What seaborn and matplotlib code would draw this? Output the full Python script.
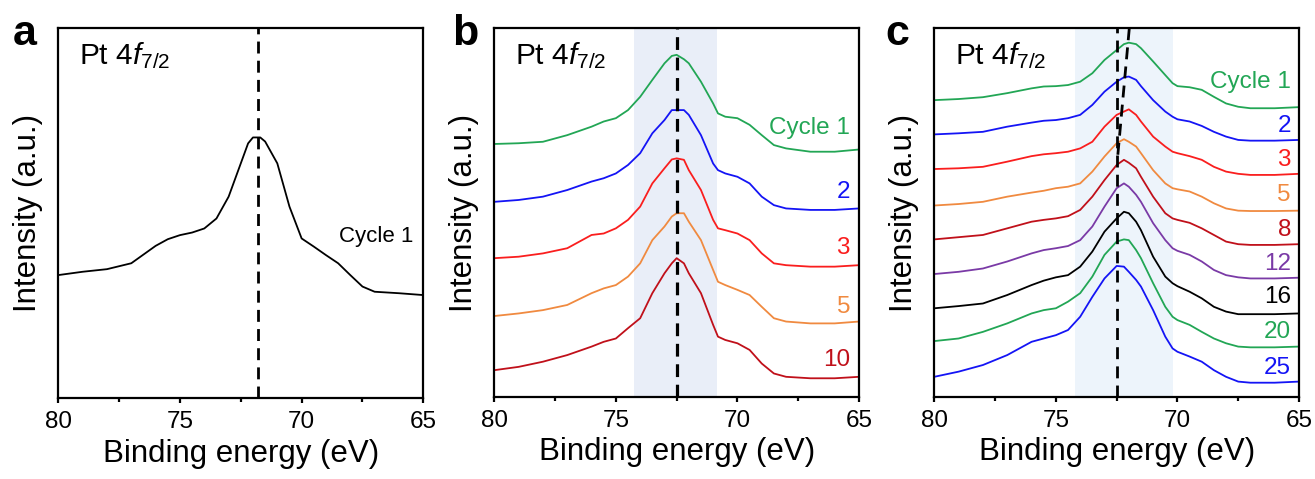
import numpy as np
import pandas as pd
import matplotlib
matplotlib.use("Agg")
import matplotlib.pyplot as plt
from matplotlib.ticker import MultipleLocator
import seaborn as sns

# ---------------- data ----------------
# Panel a: single spectrum (cycle 1)
energy_a = [80, 79, 78, 77, 76, 75.5, 75, 74.5, 74, 73.5, 73, 72.5, 72.2, 72, 71.7,
            71.5, 71, 70.5, 70, 69.5, 69, 68.5, 68, 67.5, 67, 66, 65]
intensity_a = [33.3, 34.2, 34.9, 36.5, 41.2, 43.0, 44.1, 44.8, 45.9, 48.6, 54.5, 63.5,
               68.9, 70.5, 70.5, 69.4, 63.5, 51.8, 43.2, 41.0, 38.7, 36.5, 33.3, 30.2,
               28.8, 28.4, 27.9]
peak_a = 71.8

# Panel b: cycles 1, 2, 3, 5, 10 (offset stack)
energy_b = [80, 79, 78, 77, 76, 75.5, 75, 74.5, 74, 73.5, 73, 72.7, 72.5, 72.2, 72,
            71.5, 71, 70.8, 70.5, 70, 69.5, 69, 68.5, 68, 67, 66, 65]
cycles_b = ["Cycle 1", "2", "3", "5", "10"]
b_cycle1 = [68.6, 68.8, 69.2, 71.0, 73.3, 74.7, 75.6, 77.8, 81.4, 86.0, 90.5, 92.5, 92.8,
            91.6, 90.5, 85.5, 79.6, 76.9, 76.0, 75.6, 73.8, 71.0, 68.3, 67.4, 66.5, 66.5, 67.1]
b_cycle2 = [52.9, 53.4, 54.3, 56.1, 58.4, 59.3, 60.6, 62.9, 66.1, 71.5, 75.1, 77.8, 77.8,
            77.8, 76.5, 71.0, 63.3, 61.5, 60.6, 59.7, 57.9, 54.3, 52.0, 51.1, 50.7, 50.7, 51.1]
b_cycle3 = [37.6, 38.0, 38.9, 40.3, 43.9, 44.3, 45.7, 48.0, 51.6, 57.9, 62.0, 64.4, 64.7,
            64.3, 61.5, 56.1, 48.0, 45.7, 45.2, 44.3, 42.5, 38.9, 36.2, 35.7, 35.3, 35.3, 35.7]
b_cycle5 = [21.9, 22.6, 23.5, 24.9, 28.1, 29.4, 30.3, 32.6, 36.2, 42.5, 46.2, 48.9, 49.8,
            49.8, 47.5, 42.5, 34.4, 31.2, 30.3, 29.0, 27.6, 24.4, 21.3, 20.4, 19.9, 19.9, 20.4]
b_cycle10 = [7.2, 8.1, 9.5, 11.3, 13.6, 14.9, 15.8, 18.6, 21.3, 28.1, 33.5, 36.2, 37.6,
             36.2, 33.5, 28.1, 19.5, 16.3, 15.4, 14.5, 12.7, 9.0, 6.3, 5.4, 5.0, 5.0, 5.4]
label_y_b = [72.9, 55.7, 40.3, 24.4, 10.0]
colors_b = ["#22a655", "#1414f5", "#fa1e1e", "#f08a40", "#c0101a"]
band_b = (74.25, 70.85)
peak_b = 72.5

# Panel c: cycles 1 ... 25 (offset stack)
energy_c = [80, 79, 78, 77, 76, 75.5, 75, 74.5, 74, 73.5, 73, 72.5, 72.2, 72, 71.7,
            71.5, 71, 70.5, 70.2, 70, 69.5, 69, 68.5, 68, 67.5, 67, 66, 65]
cycles_c = ["Cycle 1", "2", "3", "5", "8", "12", "16", "20", "25"]
c_cycle1 = [80.5, 80.8, 81.3, 82.4, 83.7, 84.2, 84.3, 84.6, 85.5, 87.8, 91.4, 94.1, 95.7,
            96.1, 95.7, 94.6, 91.0, 87.3, 85.1, 84.3, 84.0, 83.3, 81.4, 79.6, 78.7, 78.3,
            78.3, 78.6]
c_cycle2 = [71.2, 71.5, 71.9, 73.3, 74.4, 74.9, 75.1, 75.6, 76.5, 79.2, 82.8, 85.5, 86.7,
            86.9, 86.0, 84.3, 80.5, 77.4, 76.0, 75.3, 74.7, 73.5, 71.9, 70.6, 69.7, 69.5,
            69.5, 69.7]
c_cycle3 = [61.8, 62.0, 62.4, 63.8, 65.3, 65.8, 66.1, 66.5, 67.4, 69.2, 73.3, 76.5, 77.4,
            78.0, 76.5, 74.7, 70.6, 67.9, 66.5, 66.1, 65.3, 64.3, 62.4, 61.1, 60.5, 60.2,
            60.2, 60.5]
c_cycle5 = [51.9, 52.3, 52.9, 54.3, 55.4, 55.9, 56.6, 57.0, 57.9, 61.1, 65.2, 68.8, 69.9,
            69.2, 67.9, 66.1, 61.5, 57.9, 56.6, 56.3, 55.7, 54.3, 52.5, 51.1, 50.5, 50.4,
            50.4, 50.5]
c_cycle8 = [42.7, 43.3, 43.9, 45.7, 47.5, 48.0, 48.4, 49.0, 50.7, 54.3, 58.8, 62.9, 64.3,
            63.5, 62.0, 59.7, 54.3, 49.8, 48.4, 48.0, 47.2, 45.7, 43.9, 42.1, 41.4, 41.2,
            41.2, 41.4]
c_cycle12 = [33.3, 33.9, 34.8, 36.7, 38.9, 39.8, 40.3, 40.9, 42.5, 46.2, 51.6, 56.6, 57.9,
             57.0, 54.8, 52.9, 47.1, 42.5, 40.3, 39.6, 38.5, 36.7, 34.4, 33.0, 32.4, 32.1,
             32.1, 32.3]
c_cycle16 = [24.0, 24.6, 25.3, 27.6, 30.3, 31.5, 32.4, 33.0, 35.3, 39.4, 44.8, 48.4, 50.2,
             49.8, 47.5, 45.2, 38.0, 32.6, 30.8, 30.0, 28.5, 26.7, 24.4, 23.1, 22.4, 22.4,
             22.4, 22.6]
c_cycle20 = [15.1, 15.8, 17.6, 19.9, 22.6, 23.5, 24.0, 25.8, 28.1, 32.6, 38.5, 42.1, 42.7,
             42.5, 39.8, 37.6, 30.8, 24.4, 21.7, 20.8, 19.5, 17.6, 15.8, 14.5, 13.6, 13.4,
             13.4, 13.6]
c_cycle25 = [5.4, 6.8, 8.6, 11.3, 14.9, 15.8, 16.7, 18.1, 21.7, 27.1, 32.1, 35.5, 35.3,
             33.9, 31.7, 29.9, 23.5, 16.3, 13.1, 12.2, 10.9, 9.5, 7.2, 5.4, 4.1, 3.8, 3.8, 4.1]
label_y_c = [85.5, 73.5, 64.3, 54.8, 45.2, 36.0, 27.0, 17.6, 7.7]
colors_c = ["#22a655", "#1414f5", "#fa1e1e", "#f08a40", "#c0101a", "#7a3aa6", "#000000",
            "#22a655", "#1414f5"]
band_c = (74.2, 70.2)
peak_c = 72.5
shift_line_c = ([71.98, 72.47], [100.0, 64.3])

# ---------------- style ----------------
sns.set_style("ticks")
plt.rcParams["font.family"] = ["Liberation Sans", "DejaVu Sans"]
plt.rcParams["mathtext.fontset"] = "custom"
plt.rcParams["mathtext.rm"] = "Liberation Sans"
plt.rcParams["mathtext.it"] = "Liberation Sans:italic"
plt.rcParams["axes.linewidth"] = 1.6
plt.rcParams["axes.edgecolor"] = "black"
plt.rcParams["text.color"] = "black"
plt.rcParams["axes.labelcolor"] = "black"
plt.rcParams["xtick.color"] = "black"
plt.rcParams["ytick.color"] = "black"

fig = plt.figure(figsize=(13.15, 4.79), dpi=100)
W, H = 1315, 479
boxes = [(58.3, 28.3, 423.3, 398.3), (494.3, 28.3, 859.0, 396.7), (934.3, 28.3, 1299.0, 396.7)]
axes = []
for (x0, y0, x1, y1) in boxes:
    axes.append(fig.add_axes([x0 / W, 1 - y1 / H, (x1 - x0) / W, (y1 - y0) / H]))

LAB = 22.5
TICK = 17.5
CURVE = 17.5


def style_axis(ax):
    ax.set_xlim(80, 65)
    ax.set_ylim(0, 100)
    ax.xaxis.set_major_locator(MultipleLocator(5))
    ax.xaxis.set_minor_locator(MultipleLocator(2.5))
    ax.tick_params(axis="x", which="major", direction="out", length=3.5, width=1.6,
                   labelsize=TICK, pad=6, colors="black")
    ax.tick_params(axis="x", which="minor", direction="out", length=2.8, width=1.6)
    ax.set_yticks([])
    ax.set_xlabel("Binding energy (eV)", fontsize=LAB, labelpad=4, color="black")
    ax.set_ylabel("Intensity (a.u.)", fontsize=LAB, labelpad=11, color="black")
    for s in ax.spines.values():
        s.set_visible(True)
        s.set_linewidth(1.6)
    ax.text(0.057, 0.925, r"Pt 4$f_{7/2}$", transform=ax.transAxes, fontsize=21.5,
            ha="left", va="center", color="black")


def stacked(ax, energy, names, series, colors):
    rows = []
    for name, vals in zip(names, series):
        for e, v in zip(energy, vals):
            rows.append((e, v, name))
    df = pd.DataFrame(rows, columns=["energy", "intensity", "cycle"])
    sns.lineplot(data=df, x="energy", y="intensity", hue="cycle", hue_order=names,
                 palette=dict(zip(names, colors)), estimator=None, sort=False,
                 legend=False, linewidth=1.3, ax=ax)


# ---- panel a ----
ax = axes[0]
sns.lineplot(x=energy_a, y=intensity_a, color="black", linewidth=1.3, sort=False,
             estimator=None, ax=ax)
ax.axvline(peak_a, color="black", lw=2.0, dashes=(4.3, 2.6))
ax.text(66.95, 43.7, "Cycle 1", fontsize=16, ha="center", va="center", color="black")
style_axis(ax)

# ---- panel b ----
ax = axes[1]
ax.axvspan(*band_b, color="#e9eef8", lw=0, zorder=0)
stacked(ax, energy_b, cycles_b, [b_cycle1, b_cycle2, b_cycle3, b_cycle5, b_cycle10], colors_b)
ax.axvline(peak_b, color="black", lw=2.3, dashes=(4.0, 2.4))
for name, y, c in zip(cycles_b, label_y_b, colors_b):
    ax.text(65.37, y, name, fontsize=CURVE, color=c, ha="right", va="center")
style_axis(ax)

# ---- panel c ----
ax = axes[2]
ax.axvspan(*band_c, color="#edf4fb", lw=0, zorder=0)
stacked(ax, energy_c, cycles_c,
        [c_cycle1, c_cycle2, c_cycle3, c_cycle5, c_cycle8, c_cycle12, c_cycle16,
         c_cycle20, c_cycle25], colors_c)
ax.axvline(peak_c, color="black", lw=2.0, dashes=(4.3, 2.6))
ax.plot(shift_line_c[0], shift_line_c[1], color="black", lw=2.0, dashes=(4.3, 2.6))
for name, y, c in zip(cycles_c, label_y_c, colors_c):
    ax.text(65.33, y, name, fontsize=CURVE, color=c, ha="right", va="center")
style_axis(ax)

# panel letters
for letter, x in zip("abc", [13, 452, 885]):
    fig.text(x / W, 1 - 45 / H, letter, fontsize=31, fontweight="bold",
             ha="left", va="baseline", color="black")

fig.savefig("out.png", dpi=100)
